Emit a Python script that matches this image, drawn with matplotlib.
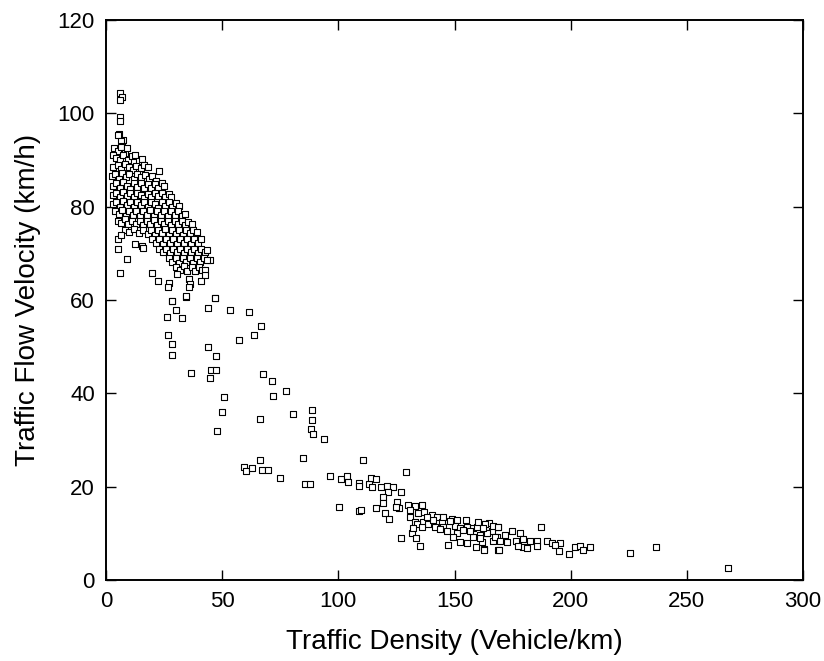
#import necessary libraries
import numpy as np
import matplotlib
matplotlib.use("Agg")
import matplotlib.pyplot as plt

plt.rcParams['font.family'] = ['Liberation Sans Narrow', 'Liberation Sans', 'DejaVu Sans']

# free flow points (top-left blob)
free_flow = [
    (6.0, 104.4), (6.8, 103.4), (6.0, 102.9), (6.0, 99.3), (6.0, 98.3), (5.7, 95.6), (7.2, 94.3),
    (5, 95.3), (6.5, 94), (7, 93),
    (3.5, 92.5), (5, 92), (6.5, 92.8), (8, 91.5), (9, 92.5),
    (3, 91), (4.5, 90.5), (6, 90), (7.5, 91), (9.5, 90), (11, 90.8), (12.5, 91), (14, 89.8), (15.5, 90.2),
    (3, 88.5), (5, 89), (6.5, 88), (8, 89.2), (10, 88.5), (11.5, 87.8), (13, 88.8), (15, 88.2),
    (16.5, 89), (18, 88.5), (23.0, 87.7),
    (2.5, 86.5), (4, 87), (5.5, 86), (7, 87.2), (8.5, 86.3), (10, 87), (12, 86), (13.5, 87),
    (15, 86.3), (17, 86.8), (18.5, 86), (20, 86.5), (21.5, 85.5),
    (3, 84.5), (4.5, 85), (6, 84), (7.5, 85.2), (9, 84.5), (10.5, 83.8), (12, 85), (13.5, 84.2),
    (15, 85), (16.5, 84), (18, 84.8), (19.5, 84), (21, 84.8), (22.5, 84), (24, 85), (25, 84.5),
    (3, 82.5), (4.5, 83), (6, 82), (7.5, 83.2), (9, 82.3), (10.5, 83), (12, 82), (13.5, 83),
    (15, 82.5), (16.5, 81.8), (18, 82.8), (19.5, 82), (21, 83), (22.5, 82.2), (24, 83), (25.5, 82),
    (27, 82.8), (28, 82),
    (2.8, 80.5), (4.5, 81), (6, 80), (7.5, 81.2), (9, 80.3), (10.5, 81), (12, 80), (13.5, 81),
    (15, 80.3), (16.5, 81), (18, 80), (19.5, 81), (21, 80.5), (22.5, 79.8), (24, 81), (25.5, 80.2),
    (27, 81), (28.5, 80), (30, 80.8), (31.5, 80.2),
    (4, 79), (5.5, 78.5), (7, 79.2), (8.5, 78), (10, 79), (11.5, 78.2), (13, 79), (14.5, 78),
    (16, 79), (17.5, 78.3), (19, 79.2), (20.5, 78), (22, 79), (23.5, 78.2), (25, 79), (26.5, 78),
    (28, 79), (29.5, 78.2), (31, 79), (32.5, 78), (34, 78.5),
    (5, 77), (6.5, 76.5), (8, 77.3), (9.5, 76.2), (11, 77), (13, 76.3), (14.5, 77), (16, 76),
    (17.5, 77), (19, 76.3), (20.5, 77.2), (22, 76), (23.5, 77), (25, 76.2), (26.5, 77), (28, 76),
    (29.5, 77), (31, 76.3), (32.5, 77), (34, 76), (35.5, 76.8), (37, 76.2),
    (8, 75), (10, 74.5), (12, 75.2), (14, 74.3), (16, 75), (18, 74.2), (19.5, 75), (21, 74),
    (22.5, 75), (24, 74.3), (25.5, 75.2), (27, 74), (28.5, 75), (30, 74.2), (31.5, 75), (33, 74),
    (34.5, 75), (36, 74.3), (37.5, 75), (39, 74.5),
    (20, 73), (21.5, 72.3), (23, 73), (24.5, 72), (26, 73), (27.5, 72.2), (29, 73), (30.5, 72),
    (32, 73), (33.5, 72.3), (35, 73), (36.5, 72), (38, 73), (39.5, 72.2), (41, 73),
    (23, 71), (24.5, 70.2), (26, 71), (27.5, 70), (29, 71), (30.5, 70.3), (32, 71), (33.5, 70),
    (35, 71), (36.5, 70.2), (38, 71), (39.5, 70), (41, 71), (42.5, 70.3), (43.5, 70.8), (44.8, 68.6),
    (27, 69), (28.5, 68.2), (30, 69), (31.5, 68), (33, 69), (34.5, 68.2), (36, 69), (37.5, 68),
    (39, 69), (40.5, 68.2), (42, 69), (43.5, 68.5),
    (30, 67), (32, 66.5), (33.5, 67.2), (35, 66.2), (37, 67), (38.5, 66.3), (40, 67), (41.5, 66.5),
    (42.6, 66.4), (42.6, 65.4), (40.9, 64.0), (35.9, 64.6), (36.2, 63.4), (35.6, 62.7), (30.7, 65.5),
    (5.3, 73.0), (6.6, 74.0), (5.3, 70.9), (9.2, 68.8), (12.6, 71.9), (15.6, 71.6), (16.1, 71.1),
    (6.0, 65.7), (19.7, 65.7), (22.5, 64.0), (27.1, 63.7), (26.6, 62.7),
]

# transition points (middle of the chart)
transition = [
    (34.4, 60.7), (28.3, 59.8), (46.9, 60.5), (47.1, 60.4), (43.8, 58.3), (53.2, 57.8), (61.7, 57.4),
    (34.3, 60.8), (28.5, 59.8), (30.3, 57.9), (26.3, 56.4), (32.9, 56.1), (66.9, 54.4), (63.6, 52.6),
    (57.1, 51.4), (26.8, 52.6), (28.5, 50.5), (28.5, 48.3), (43.8, 49.9), (47.5, 48.0), (36.5, 44.4),
    (45.1, 45.1), (47.2, 45.1), (44.9, 43.2), (67.7, 44.1), (71.6, 42.6), (77.5, 40.4), (71.9, 39.4),
    (50.9, 39.2), (50.1, 35.9), (47.6, 31.9), (66.2, 34.4), (80.4, 35.5), (88.8, 36.4), (88.8, 34.3),
    (88.2, 32.4), (89.1, 31.2), (93.7, 30.3), (66.3, 25.8), (59.3, 24.2), (60.1, 23.3), (62.7, 23.9),
    (67.3, 23.6), (69.9, 23.6), (74.8, 21.8), (84.9, 26.2), (85.7, 20.5), (87.7, 20.5), (96.6, 22.2),
    (101.2, 21.6), (103.6, 22.2), (104.0, 20.9), (110.8, 25.7), (100.4, 15.6),
]

# congested points (lower right band)
congested = [
    (108.8, 20.8), (109.1, 20.1), (113.2, 20.6), (114.1, 21.8), (116.4, 21.6), (114.6, 19.9),
    (108.8, 14.8), (109.9, 15.1), (116.2, 15.5), (118.4, 19.9), (120.8, 20.1), (123.7, 19.9),
    (121.3, 18.9), (129.1, 23.1), (127.1, 18.9), (119.4, 17.8), (119.4, 16.5), (120.2, 14.4),
    (122.0, 13.1), (125.4, 16.7), (126.1, 15.4), (125.0, 15.7), (126.9, 9.1), (131.9, 10.1),
    (133.4, 9.1), (135.3, 7.2),
    (130.1, 16.1), (133, 15.9), (135.9, 16.0), (130.9, 14.9), (134.4, 14.3), (136.9, 14.6),
    (140.2, 13.9), (142.4, 13.4), (130.9, 13.6), (133, 12.5), (136.6, 12.5), (138.7, 12.1),
    (141.6, 11.4), (144.5, 12.5), (145.2, 11.4), (148.8, 13.0), (150.9, 12.9), (150.2, 11.6),
    (152.4, 11.1), (155.3, 11.4), (158.1, 11.1), (163.1, 12.0), (166.7, 11.4), (168.9, 11.4),
    (150.9, 10.1), (153.8, 10.7), (149.5, 9.3), (152.4, 8.2), (158.1, 9.3), (161.0, 9.6),
    (163.9, 10.1), (146.6, 10.4), (143.8, 10.9), (133.7, 12.1), (135.9, 11.4), (132.3, 11.1),
    (140.9, 12.9), (138.0, 13.6), (156.7, 10.4), (159.6, 11.4), (166.0, 10.4), (168.2, 9.3),
    (155.3, 7.9), (161.7, 8.2), (145, 13.5), (148, 12.6), (155, 12.8), (160, 12.4), (165, 12.2),
    (147.4, 7.5), (159.2, 7.1), (162.7, 6.6), (168.7, 6.4), (166.5, 8.4),
    (163.2, 12.1), (166.7, 11.6), (168.9, 11.3), (174.6, 10.6), (178.2, 10.1), (171.8, 9.6),
    (163.9, 10.0), (167.5, 9.3), (169.6, 8.4), (172.5, 8.2), (176.5, 8.4), (179.6, 8.7),
    (182.5, 8.4), (185.4, 8.4), (189.7, 8.4), (191.9, 8.0), (195.4, 7.9), (179.6, 7.1),
    (181.1, 6.8), (177.5, 7.3), (185.4, 7.3), (193.3, 7.4), (161, 8.9), (162.4, 11.1),
    (187.1, 11.3), (162.7, 6.5), (169.0, 6.4), (199.4, 5.5), (195.0, 6.2), (201.9, 7.0),
    (204.0, 7.3), (205.5, 6.4), (208.3, 7.1), (225.4, 5.7), (236.8, 7.1), (267.9, 2.6),
]

x_ticks = [0, 50, 100, 150, 200, 250, 300]
y_ticks = [0, 20, 40, 60, 80, 100, 120]

pts = np.array(free_flow + transition + congested)

fig = plt.figure(figsize=(8.24, 6.61), dpi=100)
ax = fig.add_axes([106/824, 1 - 580/661, 697/824, 560/661])

ax.scatter(pts[:, 0], pts[:, 1], marker='s', s=22, facecolors='white',
           edgecolors='black', linewidths=0.8, zorder=3)

ax.set_xlim(0, 300)
ax.set_ylim(0, 120)
ax.set_xticks(x_ticks)
ax.set_yticks(y_ticks)
ax.tick_params(direction='in', length=7, width=1, top=True, right=True,
               labelsize=16, pad=8)
for s in ax.spines.values():
    s.set_linewidth(1.4)

ax.set_xlabel("Traffic Density (Vehicle/km)", fontsize=20, labelpad=12)
ax.set_ylabel("Traffic Flow Velocity (km/h)", fontsize=20, labelpad=12)

fig.savefig("out.png", dpi=100)
